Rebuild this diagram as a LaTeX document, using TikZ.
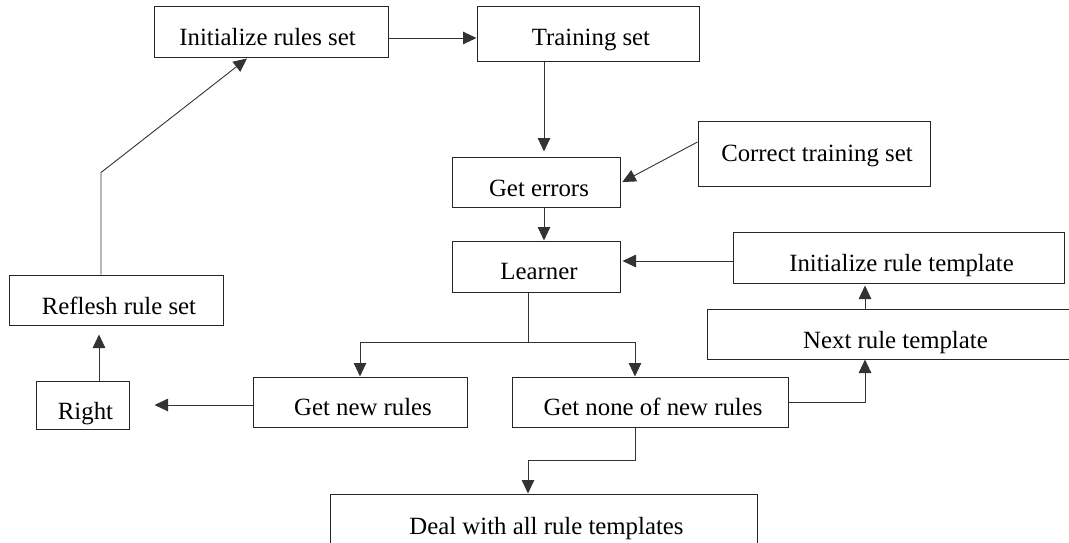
\documentclass[tikz,border=0pt]{standalone}
\usepackage{fontspec}
\setmainfont{Liberation Serif}
\usetikzlibrary{arrows.meta,calc}
\begin{document}
\begin{tikzpicture}[x=1pt,y=-1pt,
  box/.style={draw=black!85, line width=1pt, rectangle, inner sep=0pt,
    font=\fontsize{24.8}{30}\selectfont, text height=26pt, text depth=0pt,
    execute at begin node={\hspace*{6pt}}},
  conn/.style={draw=black!80, line width=0.9pt},
  arr/.style={conn, -{Triangle[length=13.5pt,width=12.5pt]}}]
\useasboundingbox (0,0) rectangle (1069,543);
\fill[white] (0,0) rectangle (1069,543);
\clip (0,0) rectangle (1069,543);

\node[box, minimum width=234pt, minimum height=51pt,
  execute at begin node={}, execute at end node={\hspace*{13pt}}] (irs) at (271,32.5) {Initialize rules set};
\node[box, minimum width=222pt, minimum height=55pt, text height=23pt] (ts) at (588,34.5) {Training set};
\node[box, minimum width=168pt, minimum height=50pt, text height=28pt] (ge) at (536,182) {Get errors};
\node[box, minimum width=232pt, minimum height=65pt, text height=15pt] (cts) at (814,153.5) {Correct training set};
\node[box, minimum width=168pt, minimum height=51pt, text height=25pt] (lrn) at (536,266.5) {Learner};
\node[box, minimum width=331pt, minimum height=51pt, text height=27pt] (irt) at (898.5,257.5) {Initialize rule template};
\node[box, minimum width=214pt, minimum height=50pt, text height=28pt] (rrs) at (116,300) {Reflesh rule set};
\node[box, minimum width=371pt, minimum height=50pt, text height=28pt] (nrt) at (892.5,334) {Next rule template};
\node[box, minimum width=93pt, minimum height=48pt, text height=28pt] (right) at (82.5,405) {Right};
\node[box, minimum width=214pt, minimum height=50pt] (gnew) at (360,402) {Get new rules};
\node[box, minimum width=276pt, minimum height=50pt] (gnone) at (650,402) {Get none of new rules};
\node[box, minimum width=427pt, minimum height=54pt, text height=26pt] (deal) at (543.5,521) {Deal with all rule templates};

% Initialize rules set -> Training set
\coordinate (a1) at ([yshift=-5.5pt]irs.east);
\draw[arr] (a1) -- (a1 -| ts.west);
% Training set -> Get errors
\coordinate (a2) at ([xshift=8pt]ge.north);
\draw[arr, shorten >=5pt] (a2 |- ts.south) -- (a2);
% Get errors -> Learner
\draw[arr] ([xshift=8pt]ge.south) -- ([xshift=8pt]lrn.north);
% Correct training set -> Get errors
\draw[arr, shorten >=2pt] ([yshift=11.5pt]cts.west) -- ([yshift=-1pt]ge.east);
% Initialize rule template -> Learner
\coordinate (a5) at ([yshift=-3.5pt]irt.west);
\draw[arr, shorten >=2pt] (a5) -- (a5 -| lrn.east);
% Next rule template -> Initialize rule template
\coordinate (a6) at ([xshift=-27.5pt]nrt.north);
\draw[arr, shorten >=2pt] (a6) -- (a6 |- irt.south);
% Get none of new rules -> Next rule template
\draw[arr] (gnone.east) -| ([xshift=-27.5pt]nrt.south);
% Learner -> split
\coordinate (lb) at ([xshift=-8pt]lrn.south);
\coordinate (split) at ([yshift=-50pt]lb);
\draw[conn] (lb) -- (split);
\draw[arr] (split) -| (gnew.north);
\draw[arr] (split) -| ([xshift=-15pt]gnone.north);
% Get new rules -> Right
\coordinate (a9) at ([yshift=-3pt]gnew.west);
\draw[arr, shorten >=25pt] (a9) -- (a9 -| right.east);
% Right -> Reflesh rule set
\coordinate (a10) at ([xshift=16.5pt]right.north);
\draw[arr, shorten >=9pt] (a10) -- (a10 |- rrs.south);
% Reflesh rule set -> Initialize rules set
\coordinate (a11) at ([xshift=-15pt]rrs.north);
\coordinate (bend) at ([yshift=102pt]a11);
\draw[arr] (a11) -- (bend) -- ([xshift=-24pt]irs.south);
% Get none of new rules -> Deal with all rule templates
\coordinate (a12) at ([xshift=-15pt]gnone.south);
\coordinate (a12b) at ([yshift=-33pt]a12);
\draw[arr] (a12) -- (a12b) -| ([xshift=-15.5pt]deal.north);
\end{tikzpicture}
\end{document}
